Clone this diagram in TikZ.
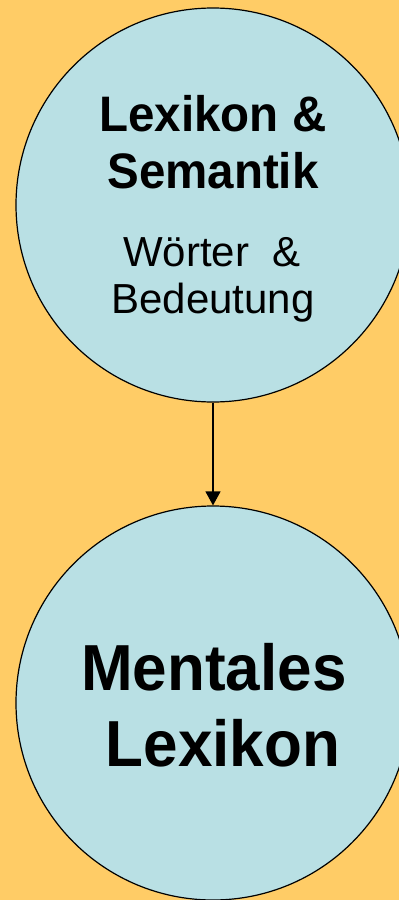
\documentclass[tikz,border=0pt]{standalone}
\usepackage{fontspec}
\setmainfont{Liberation Sans}
\usetikzlibrary{arrows.meta}
\definecolor{bgorange}{RGB}{255,204,102}
\definecolor{circfill}{RGB}{185,224,228}
\newcommand{\vstretch}[1]{\scalebox{1}[1.05]{#1}}
\tikzset{
  bubble/.style={circle, draw=black, line width=1.2pt, fill=circfill, minimum size=394pt, inner sep=0pt},
  headtxt/.style={anchor=base, inner sep=0pt, font=\fontsize{47.5}{57}\selectfont\bfseries},
  subtxt/.style={anchor=base, inner sep=0pt, font=\fontsize{42}{50}\selectfont},
  bigtxt/.style={anchor=base, inner sep=0pt, font=\fontsize{62}{74}\selectfont\bfseries},
  link/.style={line width=1.2pt, -{Triangle[length=14pt,width=15pt]}}
}
\begin{document}
\begin{tikzpicture}[x=1pt, y=-1pt]
\useasboundingbox (0,0) rectangle (399,900);
\clip (0,0) rectangle (399,900);
\fill[bgorange] (0,0) rectangle (399,900);
\node[bubble] (top) at (213,205) {};
\node[bubble] (bot) at (213,703) {};
\draw[link] (top.south) -- (bot.north);
\node[headtxt] (t1) at (213,131.5) {\vstretch{Lexikon \&}};
\node[headtxt] (t2) at (213,188) {\vstretch{Semantik}};
\node[subtxt] (t3) at (212,266.5) {Wörter\ \ \&};
\node[subtxt] (t4) at (213,313) {Bedeutung};
\node[bigtxt] (b1) at (214,690) {\vstretch{Mentales}};
\node[bigtxt] (b2) at (223,766.5) {\vstretch{Lexikon}};
\end{tikzpicture}
\end{document}
